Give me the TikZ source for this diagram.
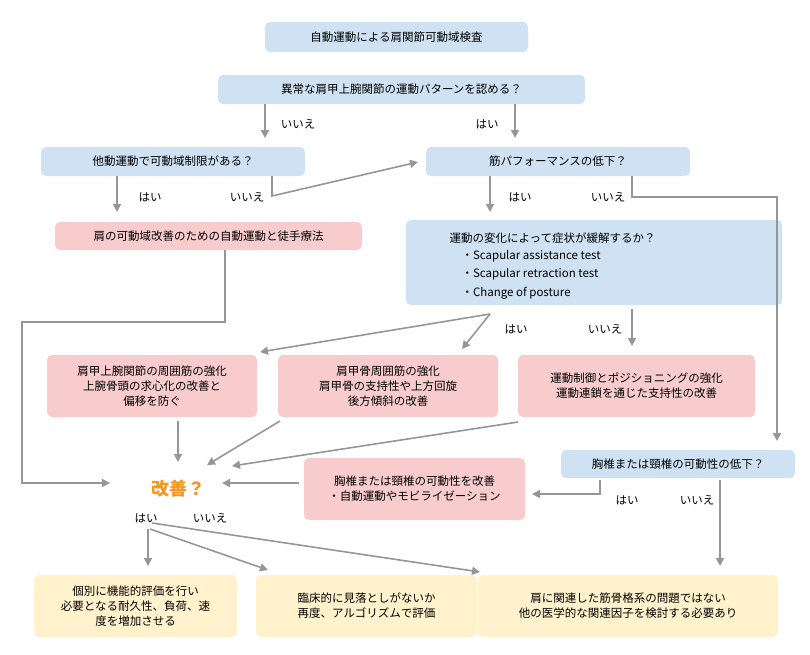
\documentclass[tikz,border=0pt]{standalone}
\usepackage{fontspec}
\setmainfont{Noto Sans CJK JP}
\usetikzlibrary{arrows.meta}
\begin{document}
\begin{tikzpicture}[x=1pt,y=-1pt,
 bx/.style={rounded corners=5pt,draw=none,inner sep=2pt,font=\fontsize{11.5}{15}\selectfont,align=center},
 bl/.style={bx,fill={rgb,255:red,207;green,226;blue,243}},
 pk/.style={bx,fill={rgb,255:red,248;green,204;blue,204}},
 yl/.style={bx,fill={rgb,255:red,255;green,242;blue,204}},
 lb/.style={font=\fontsize{11.5}{13}\selectfont},
 ar/.style={draw={rgb,255:red,150;green,150;blue,150},line width=1.6pt,-{Triangle[length=8pt,width=8pt]}}]
\useasboundingbox (0,0) rectangle (810,654);
\node[bl,minimum width=263,minimum height=30] (top) at (396.5,37) {自動運動による肩関節可動域検査};
\node[bl,minimum width=367,minimum height=29] (q2) at (401.5,89.5) {異常な肩甲上腕関節の運動パターンを認める？};
\node[bl,minimum width=264,minimum height=29] (pas) at (173,161.5) {他動運動で可動域制限がある？};
\node[bl,minimum width=264,minimum height=29] (fin) at (558,161.5) {筋パフォーマンスの低下？};
\node[pk,minimum width=307,minimum height=28] (rom) at (208.5,236) {肩の可動域改善のための自動運動と徒手療法};
\node[bl,minimum width=376,minimum height=85] (sym) at (594,262.5) {};
\node[lb,anchor=west] (symt) at (446,238) {運動の変化によって症状が緩解するか？};
\node[lb,anchor=west] (b1) at (458,256) {・Scapular assistance test};
\node[lb,anchor=west] (b2) at (458,274) {・Scapular retraction test};
\node[lb,anchor=west] (b3) at (458,293) {・Change of posture};
\node[pk,minimum width=210,minimum height=62] (s1) at (152,386) {肩甲上腕関節の周囲筋の強化\\上腕骨頭の求心化の改善と\\偏移を防ぐ};
\node[pk,minimum width=220,minimum height=62] (s2) at (388,386) {肩甲骨周囲筋の強化\\肩甲骨の支持性や上方回旋\\後方傾斜の改善};
\node[pk,minimum width=237,minimum height=62] (s3) at (636.5,386) {運動制御とポジショニングの強化\\運動連鎖を通じた支持性の改善};
\node[bl,minimum width=234,minimum height=28] (tho) at (678,464) {胸椎または頸椎の可動性の低下？};
\node[pk,minimum width=221,minimum height=62] (thi) at (414.5,489) {胸椎または頸椎の可動性を改善\\・自動運動やモビライゼーション};
\node[font=\bfseries\fontsize{18}{20}\selectfont,text={rgb,255:red,245;green,150;blue,30}] (imp) at (178,489) {改善？};
\node[yl,minimum width=203,minimum height=62] (y1) at (135.5,606) {個別に機能的評価を行い\\必要となる耐久性、負荷、速\\度を増加させる};
\node[yl,minimum width=221,minimum height=62] (y2) at (366.5,606) {臨床的に見落としがないか\\再度、アルゴリズムで評価};
\node[yl,minimum width=300,minimum height=62] (y3) at (628,606) {肩に関連した筋骨格系の問題ではない\\他の医学的な関連因子を検討する必要あり};
\node[lb] (l1) at (298,124) {いいえ};
\node[lb] (l2) at (487,124) {はい};
\node[lb] (l3) at (150,197) {はい};
\node[lb] (l4) at (247,197) {いいえ};
\node[lb] (l5) at (520,197) {はい};
\node[lb] (l6) at (608,197) {いいえ};
\node[lb] (l7) at (516,329) {はい};
\node[lb] (l8) at (605,329) {いいえ};
\node[lb] (l9) at (627,500) {はい};
\node[lb] (l10) at (697,500) {いいえ};
\node[lb] (l11) at (146,518) {はい};
\node[lb] (l12) at (210,518) {いいえ};
\draw[ar] (265,104) -- (265,138);
\draw[ar] (515,104) -- (515,138);
\draw[ar] (117,176) -- (117,212);
\draw[ar] (272,176) -- (272,196) -- (418,162);
\draw[ar] (490,176) -- (490,212);
\draw[ar] (632,176) -- (632,197) -- (777,197) -- (777,441);
\draw[ar] (225,250) -- (225,322) -- (22,322) -- (22,483) -- (110,483);
\draw[ar] (490,314) -- (260,352);
\draw[ar] (490,314) -- (462,349);
\draw[ar] (632,309) -- (632,346);
\draw[ar] (178,421) -- (178,462);
\draw[ar] (280,421) -- (207,465);
\draw[ar] (518,422) -- (232,466);
\draw[ar] (299,483) -- (222,483);
\draw[ar] (600,480) -- (600,494) -- (532,494);
\draw[ar] (720,480) -- (720,566);
\draw[ar] (148,529) -- (148,566);
\draw[ar] (150,529) -- (268,570);
\draw[ar] (152,523) -- (480,572);
\end{tikzpicture}
\end{document}
